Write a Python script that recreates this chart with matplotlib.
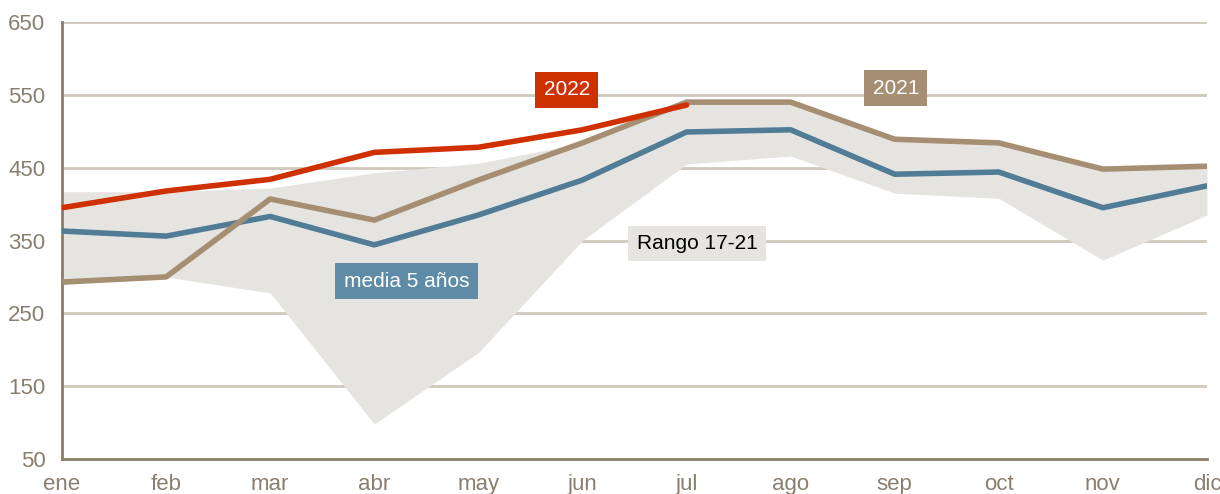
import numpy as np
import matplotlib
matplotlib.use("Agg")
from matplotlib import pyplot as plt

months = ['ene', 'feb', 'mar', 'abr', 'may', 'jun', 'jul', 'ago', 'sep', 'oct', 'nov', 'dic']

# values
y2022 = [395, 418, 434, 471, 478, 502, 536]
y2021 = [293, 300, 407, 378, 433, 484, 540, 540, 489, 484, 448, 452]
media = [363, 356, 383, 344, 385, 433, 499, 502, 441, 444, 395, 425]
rango_max = [417, 417, 422, 443, 456, 484, 543, 541, 489, 484, 448, 452]
rango_min = [289, 300, 278, 98, 196, 350, 455, 466, 415, 408, 323, 385]

yticks = [50, 150, 250, 350, 450, 550, 650]

c_red = '#CF3000'
c_tan = '#A58E72'
c_blue = '#517C96'
c_band = '#E6E4E1'
c_grid = '#CFC8BC'
c_axis = '#8A7E69'
c_tick = '#8A7F6E'

plt.rcParams['font.family'] = ['Liberation Sans', 'DejaVu Sans']

fig = plt.figure(figsize=(12.2, 4.94), dpi=100)
ax = fig.add_axes([62 / 1220, 1 - 459 / 494, (1207 - 62) / 1220, 437 / 494])

x = np.arange(len(months))

for v in yticks[1:]:
    ax.axhline(v, color=c_grid, lw=2, zorder=0)

ax.fill_between(x, rango_min, rango_max, color=c_band, lw=0, zorder=1)
ax.plot(x, media, color=c_blue, lw=4, zorder=3)
ax.plot(x, y2021, color=c_tan, lw=4, zorder=4)
ax.plot(x[:len(y2022)], y2022, color=c_red, lw=4, zorder=5, solid_capstyle='round')

# series labels
lab = dict(fontsize=15, ha='center', va='center', zorder=6)
ax.text(4.85, 557, '2022', color='white',
        bbox=dict(boxstyle='square,pad=0.4', fc=c_red, ec='none'), **lab)
ax.text(8.01, 559, '2021', color='white',
        bbox=dict(boxstyle='square,pad=0.4', fc=c_tan, ec='none'), **lab)
ax.text(3.31, 294, 'media 5 años', color='white',
        bbox=dict(boxstyle='square,pad=0.4', fc='#5E8CA6', ec='none'), **lab)
ax.text(6.1, 346, 'Rango 17-21', color='black',
        bbox=dict(boxstyle='square,pad=0.4', fc=c_band, ec='none'), **lab)

ax.set_xlim(0, 11)
ax.set_ylim(50, 650)
ax.set_yticks(yticks)
ax.set_xticks(x)
ax.set_xticklabels(months)

for s in ['top', 'right']:
    ax.spines[s].set_visible(False)
for s in ['left', 'bottom']:
    ax.spines[s].set_color(c_axis)
    ax.spines[s].set_linewidth(2)
ax.spines['bottom'].set_zorder(2)

ax.tick_params(axis='both', length=0, labelsize=16, colors=c_tick)
ax.tick_params(axis='y', pad=12)
ax.tick_params(axis='x', pad=11)

fig.savefig('out.png', dpi=100)
